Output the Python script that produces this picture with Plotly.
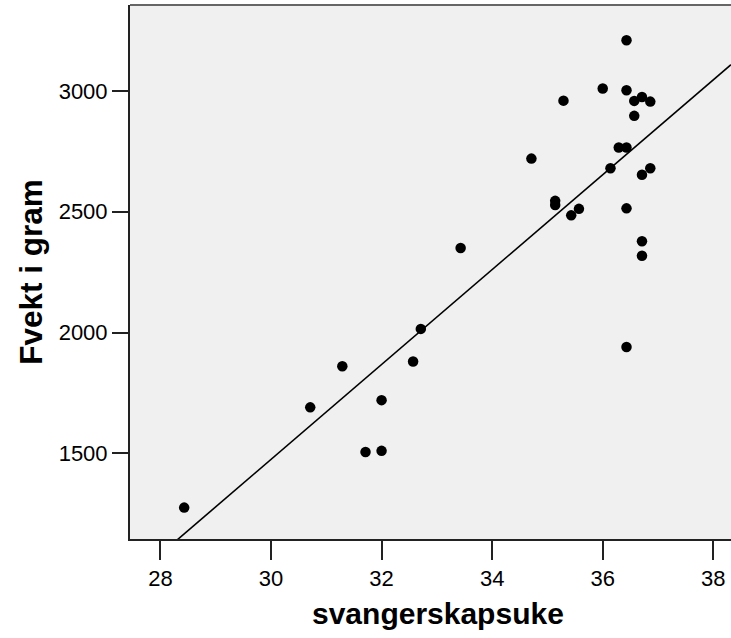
import numpy as np
import plotly.graph_objects as go

# gestational week vs birth weight (grams)
weeks = [28.43, 30.71, 31.29, 31.71, 32.00, 32.00, 32.57, 32.71, 33.43, 34.71,
         35.14, 35.14, 35.29, 35.43, 35.57, 36.00, 36.14, 36.29, 36.43, 36.43,
         36.43, 36.43, 36.43, 36.57, 36.57, 36.71, 36.71, 36.71, 36.71, 36.86, 36.86]
weight = [1275, 1690, 1860, 1505, 1510, 1720, 1880, 2015, 2350, 2720,
          2545, 2528, 2960, 2485, 2512, 3010, 2680, 2766, 2766, 3210,
          3003, 2514, 1940, 2959, 2897, 2975, 2653, 2378, 2318, 2956, 2680]

x_ticks = [28, 30, 32, 34, 36, 38]
y_ticks = [1500, 2000, 2500, 3000]
x_range = [27.45, 38.32]
y_range = [1145, 3356]

# least squares fit line
slope, intercept = np.polyfit(weeks, weight, 1)
line_x = np.array(x_range)
line_y = intercept + slope * line_x

font_family = "Arial, Liberation Sans, sans-serif"

fig = go.Figure()
fig.add_trace(go.Scatter(x=line_x, y=line_y, mode="lines",
                         line=dict(color="black", width=1.6),
                         hoverinfo="skip", showlegend=False))
fig.add_trace(go.Scatter(x=weeks, y=weight, mode="markers",
                         marker=dict(color="black", size=10.5, line=dict(width=0)),
                         showlegend=False))

fig.update_layout(
    width=731, height=638,
    margin=dict(l=130, r=0, t=5, b=99),
    paper_bgcolor="white",
    plot_bgcolor="#F0F0F0",
    font=dict(family=font_family, color="black", size=22),
    xaxis=dict(range=x_range, tickvals=x_ticks, showgrid=False, zeroline=False,
               showline=True, linecolor="#222", linewidth=2,
               ticks="outside", ticklen=19, tickwidth=2, tickcolor="#222",
               tickfont=dict(size=22), ticklabelstandoff=0),
    yaxis=dict(range=y_range, tickvals=y_ticks, showgrid=False, zeroline=False,
               showline=True, linecolor="#222", linewidth=2,
               ticks="outside", ticklen=16, tickwidth=2, tickcolor="#222",
               tickfont=dict(size=22), ticklabelstandoff=0),
    shapes=[dict(type="line", xref="paper", yref="paper", x0=0, x1=1, y0=1, y1=1,
                 line=dict(color="#666", width=2))],
    annotations=[
        dict(text="<b>svangerskapsuke</b>", xref="paper", yref="paper",
             x=0.5117, y=-0.105, xanchor="center", yanchor="top",
             showarrow=False, font=dict(size=30, family=font_family)),
        dict(text="<b>Fvekt i gram</b>", xref="paper", yref="paper",
             x=-0.165, y=0.50, xanchor="center", yanchor="middle", textangle=-90,
             showarrow=False, font=dict(size=31.5, family=font_family)),
    ],
)

fig.write_html("out.html")
